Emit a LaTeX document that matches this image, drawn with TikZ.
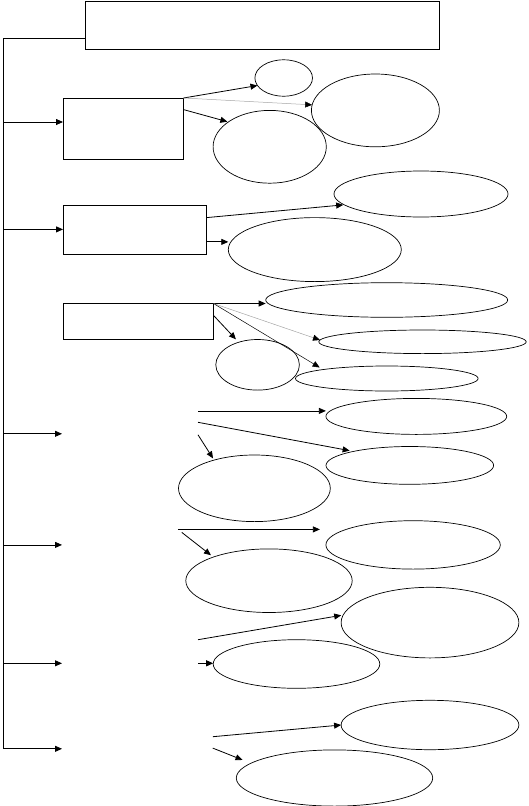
\documentclass[tikz,border=0pt]{standalone}
\usetikzlibrary{shapes.geometric,arrows.meta,calc}
\begin{document}
\begin{tikzpicture}[x=1pt,y=-1pt,
  box/.style={draw, line width=0.8pt, inner sep=0pt, outer sep=0pt, anchor=north west},
  ell/.style={draw, ellipse, line width=0.7pt, inner sep=0pt, outer sep=0pt},
  arr/.style={-{Triangle[length=7pt,width=6pt]}, line width=0.8pt},
  garr/.style={-{Triangle[length=7pt,width=6pt,black]}, draw=black!35, line width=0.5pt},
  darr/.style={-{Triangle[length=7pt,width=6pt]}, line width=0.5pt}]
\useasboundingbox (0,0) rectangle (528,806);
% boxes
\node[box, minimum width=354pt, minimum height=48pt] (top) at (85,1) {};
\node[box, minimum width=120.5pt, minimum height=61pt] (b1) at (63,98) {};
\node[box, minimum width=143.4pt, minimum height=48.5pt] (b2) at (63,205.5) {};
\node[box, minimum width=150.5pt, minimum height=36pt] (b3) at (63,303.5) {};
% ellipses
\node[ell, minimum width=57.6pt, minimum height=36.4pt] (S) at (283.7,78) {};
\node[ell, minimum width=128pt, minimum height=72.8pt] (B) at (375.4,110.4) {};
\node[ell, minimum width=113.2pt, minimum height=72.8pt] (L) at (269.7,146.8) {};
\node[ell, minimum width=174pt, minimum height=46pt] (E1) at (421,194) {};
\node[ell, minimum width=173pt, minimum height=64pt] (E2) at (314.8,249.6) {};
\node[ell, minimum width=242pt, minimum height=34.6pt] (F1) at (386.7,300) {};
\node[ell, minimum width=207.4pt, minimum height=23.6pt] (F2) at (422.5,341.8) {};
\node[ell, minimum width=182.6pt, minimum height=25pt] (F3) at (386.8,378.5) {};
\node[ell, minimum width=83.6pt, minimum height=50.6pt] (G) at (257.6,364.8) {};
\node[ell, minimum width=180.8pt, minimum height=36pt] (H1) at (416.3,416.4) {};
\node[ell, minimum width=167.6pt, minimum height=37.8pt] (H2) at (409.8,465.4) {};
\node[ell, minimum width=151.8pt, minimum height=66.6pt] (H3) at (254.4,488.3) {};
\node[ell, minimum width=174.4pt, minimum height=48.4pt] (I1) at (413.1,544.9) {};
\node[ell, minimum width=166.4pt, minimum height=63.6pt] (I2) at (269,580.7) {};
\node[ell, minimum width=177.8pt, minimum height=70.6pt] (J1) at (430,622.6) {};
\node[ell, minimum width=166.6pt, minimum height=48.6pt] (J2) at (296.5,664) {};
\node[ell, minimum width=177.8pt, minimum height=49.4pt] (K1) at (430,725) {};
\node[ell, minimum width=196.4pt, minimum height=56.2pt] (K2) at (334.5,778) {};
% trunk
\coordinate (t0) at (85,38);
\coordinate (tend) at (3,748.8);
\coordinate (tr1) at (3,122);
\coordinate (tr2) at (3,229.4);
\coordinate (tr4) at (3,433.8);
\coordinate (tr5) at (3,544.9);
\coordinate (tr6) at (3,663.3);
\coordinate (e4) at (62,433.8);
\coordinate (e5) at (62,544.9);
\coordinate (e6) at (62,663.3);
\coordinate (e7) at (62,748.8);
\draw[line width=0.9pt] (t0) -| (tend);
\draw[arr] (tr1) -- (tr1 -| b1.west);
\draw[arr] (tr2) -- (tr2 -| b2.west);
\draw[arr] (tr4) -- (e4);
\draw[arr] (tr5) -- (e5);
\draw[arr] (tr6) -- (e6);
\draw[arr] (tend) -- (e7);
% box 1
\draw[arr] (b1.north east) -- (S.196);
\draw[garr] (b1.north east) -- (B.175);
\draw[arr, shorten >=1pt] ($(b1.north east)!0.19!(b1.south east)$) -- (L.149);
% box 2
\coordinate (b2a) at ($(b2.north east)!0.25!(b2.south east)$);
\coordinate (b2b) at ($(b2.north east)!0.75!(b2.south east)$);
\draw[arr, shorten >=1pt] (b2a) -- (E1.188);
\draw[arr] (b2b) -- (b2b -| E2.west);
% box 3
\draw[arr] (b3.north east) -- (b3.north east -| F1.west);
\draw[garr] (b3.north east) -- (F2.179);
\draw[darr, shorten >=4pt] (b3.north east) -- (F3.172);
\draw[arr, shorten >=4pt] ($(b3.north east)!0.33!(b3.south east)$) -- (G.130);
% section 4
\coordinate (c4a) at (198,410.9);
\coordinate (c4b) at (198,422.3);
\coordinate (c4c) at (198,434.8);
\draw[arr] (c4a) -- (c4a -| H1.west);
\draw[arr, shorten >=4pt] (c4b) -- (H2.166);
\draw[arr, shorten >=2pt] (c4c) -- (H3.145);
% section 5
\coordinate (c5a) at (177.8,529.4);
\coordinate (c5b) at (181.8,532.4);
\draw[arr, shorten >=6pt] (c5a) -- (c5a -| I1.west);
\draw[arr, shorten >=3pt] (c5b) -- (I2.157);
% section 6
\coordinate (c6a) at (198,639.7);
\coordinate (c6b) at (198,663.3);
\draw[arr, shorten >=2pt] (c6a) -- (J1.175);
\draw[arr] (c6b) -- (c6b -| J2.west);
% section 7
\coordinate (c7a) at (212.8,736.7);
\coordinate (c7b) at (212.8,748.1);
\draw[arr] (c7a) -- (K1.west);
\draw[arr, shorten >=9pt] (c7b) -- (K2.170);
\end{tikzpicture}
\end{document}
